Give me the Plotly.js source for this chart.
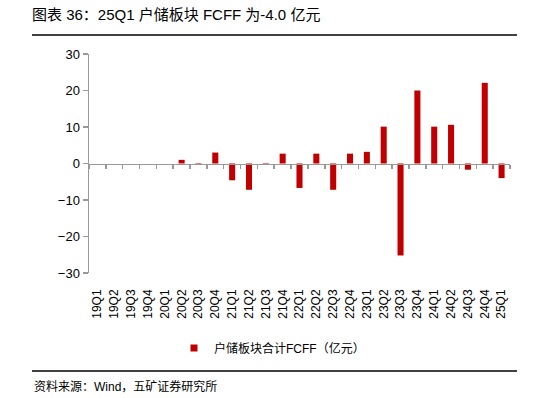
<!DOCTYPE html>
<html>
<head>
<meta charset="utf-8">
<script src="https://cdn.plot.ly/plotly-3.0.1.min.js"></script>
<style>html,body{margin:0;padding:0;background:#fff;}#chart{width:550px;height:398px;}</style>
</head>
<body>
<div id="chart"></div>
<script>
const quarters = ["19Q1","19Q2","19Q3","19Q4","20Q1","20Q2","20Q3","20Q4","21Q1","21Q2","21Q3","21Q4","22Q1","22Q2","22Q3","22Q4","23Q1","23Q2","23Q3","23Q4","24Q1","24Q2","24Q3","24Q4","25Q1"];
const fcff = [0,0,0,0,0,1.0,-0.2,3.0,-4.6,-7.2,-0.4,2.7,-6.7,2.7,-7.2,2.7,3.2,10.1,-25.2,20.0,10.1,10.6,-1.7,22.1,-4.0];
const seriesName = "户储板块合计FCFF（亿元）";
const titleText = "图表 36：25Q1 户储板块 FCFF 为-4.0 亿元";
const sourceText = "资料来源：Wind，五矿证券研究所";

const FONT = "Liberation Sans, Noto Sans CJK SC, sans-serif";
const L = 89, R = 510, T = 54, B = 273, W = 550, H = 398;
const px = v => (v - L) / (R - L);
const py = v => (B - v) / (B - T);

const data = [
  {type: "bar", x: quarters, y: fcff, marker: {color: "#C00000"}, showlegend: false, hoverinfo: "x+y"},
  {type: "scatter", mode: "markers", x: [null], y: [null], name: seriesName,
   marker: {symbol: "square", size: 7, color: "#C00000"}, showlegend: true, hoverinfo: "skip"},
  {type: "scatter", mode: "none", x: quarters, y: quarters.map(() => 0), xaxis: "x2", yaxis: "y",
   showlegend: false, hoverinfo: "skip"}
];

const layout = {
  width: W, height: H,
  margin: {l: L, r: W - R, t: T, b: H - B, pad: 0},
  paper_bgcolor: "#fff", plot_bgcolor: "#fff",
  font: {family: FONT, size: 12, color: "#000"},
  title: {text: titleText, x: 32 / W, xanchor: "left", xref: "container",
          y: 1 - 15 / H, yanchor: "middle", yref: "container",
          font: {family: FONT, size: 15, color: "#000"}},
  bargap: 0.64,
  xaxis: {type: "category", categoryarray: quarters, range: [-0.5, 24.5],
          showline: false, ticks: "", showgrid: false, zeroline: false,
          tickangle: -90, ticklabelstandoff: 13, tickfont: {family: FONT, size: 12, color: "#000"}},
  xaxis2: {type: "category", categoryarray: quarters, range: [-0.5, 24.5], overlaying: "x",
           anchor: "free", position: 0.5, side: "bottom",
           showline: true, linecolor: "#999", linewidth: 1.5,
           ticks: "outside", tickson: "boundaries", ticklen: 4, tickcolor: "#999", tickwidth: 1.5,
           showticklabels: false, showgrid: false, zeroline: false},
  yaxis: {range: [-30, 30], dtick: 10, tick0: 0, showgrid: false, zeroline: false,
          showline: true, linecolor: "#999", linewidth: 1.5,
          ticks: "outside", ticklen: 5, tickcolor: "#999", tickwidth: 1.5,
          tickfont: {family: FONT, size: 13, color: "#000"}},
  legend: {orientation: "h", x: px(174), xanchor: "left", y: py(348), yanchor: "middle",
           font: {family: FONT, size: 12, color: "#000"}, bgcolor: "rgba(0,0,0,0)"},
  shapes: [
    {type: "line", xref: "paper", yref: "paper", x0: px(32), x1: px(517), y0: py(35), y1: py(35),
     line: {color: "#000", width: 1.5}},
    {type: "line", xref: "paper", yref: "paper", x0: px(32), x1: px(517), y0: py(371), y1: py(371),
     line: {color: "#000", width: 1.5}}
  ],
  annotations: [
    {text: sourceText, xref: "paper", yref: "paper", x: px(32), y: py(386), xanchor: "left", yanchor: "middle",
     showarrow: false, font: {family: FONT, size: 12, color: "#000"}}
  ]
};

Plotly.newPlot("chart", data, layout, {displayModeBar: false, staticPlot: true});
</script>
</body>
</html>
